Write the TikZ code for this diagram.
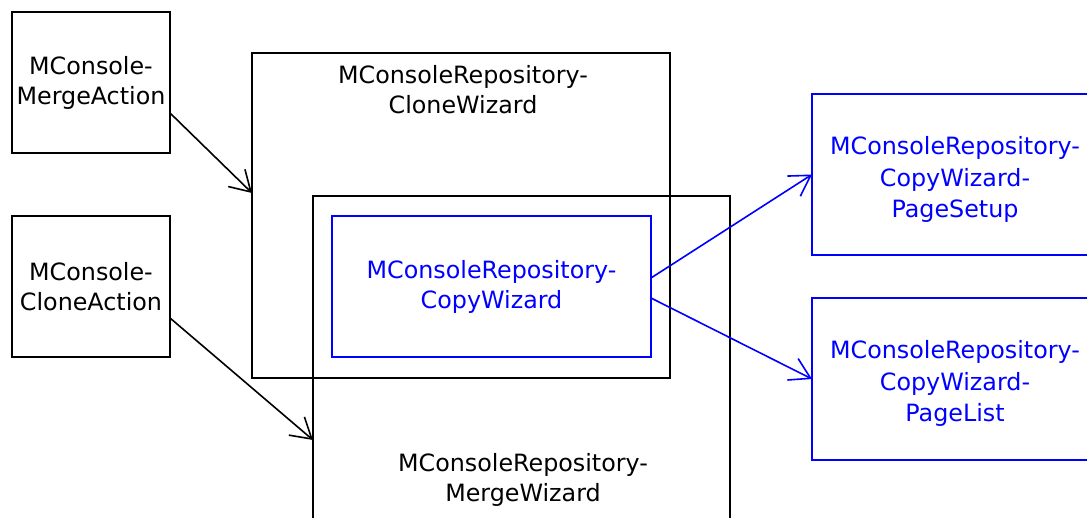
\documentclass[tikz,border=0pt]{standalone}
\usepackage{fontspec}
\setmainfont{DejaVu Sans}
\usetikzlibrary{arrows.meta}
\definecolor{cblue}{RGB}{0,0,255}
\tikzset{
  box/.style={draw, rectangle, line width=1.6pt, inner sep=0pt, outer sep=0pt, align=center,
    font=\fontsize{23.8}{30}\selectfont},
  bluebox/.style={box, draw=cblue, text=cblue},
  lbl/.style={inner sep=0pt, align=center, font=\fontsize{23.8}{30}\selectfont},
  blbl/.style={inner sep=0pt, align=center, text=cblue, font=\fontsize{23.8}{31.5}\selectfont},
  conn/.style={line width=1.6pt, -{Straight Barb[length=20pt,width=24pt,line width=1.6pt]}},
  bconn/.style={conn, draw=cblue}
}
\begin{document}
\begin{tikzpicture}[x=1pt,y=-1pt]
\useasboundingbox (0,0) rectangle (1087,518);
\clip (0,0) rectangle (1087,518);
\node[box, minimum width=158pt, minimum height=141pt] (ma) at (91,82.5) {MConsole-\\MergeAction};
\node[box, minimum width=158pt, minimum height=141pt] (ca) at (91,286.5) {MConsole-\\CloneAction};
\node[box, minimum width=418pt, minimum height=325pt] (cw) at (461,215.5) {};
\node[lbl] (cwt) at (463,89.5) {MConsoleRepository-\\CloneWizard};
\node[box, minimum width=417pt, minimum height=364pt] (mw) at (521.5,378) {};
\node[lbl] (mwt) at (523,479.5) {MConsoleRepository-\\MergeWizard};
\node[bluebox, minimum width=319pt, minimum height=141pt] (cp) at (491.5,286.5) {MConsoleRepository-\\CopyWizard};
\node[bluebox, minimum width=284pt, minimum height=161pt] (ps) at (954,174.5) {};
\node[blbl] (pst) at (955,179.5) {MConsoleRepository-\\CopyWizard-\\PageSetup};
\node[bluebox, minimum width=284pt, minimum height=162pt] (pl) at (954,379) {};
\node[blbl] (plt) at (955,383.5) {MConsoleRepository-\\CopyWizard-\\PageList};
\draw[conn] ([yshift=-30.5pt]ma.east) -- ([yshift=22.5pt]cw.west);
\draw[conn] ([yshift=-31.5pt]ca.east) -- ([yshift=-62pt]mw.west);
\draw[bconn] ([yshift=8.5pt]cp.east) -- (ps.west);
\draw[bconn] ([yshift=-11.5pt]cp.east) -- (pl.west);
\end{tikzpicture}
\end{document}
